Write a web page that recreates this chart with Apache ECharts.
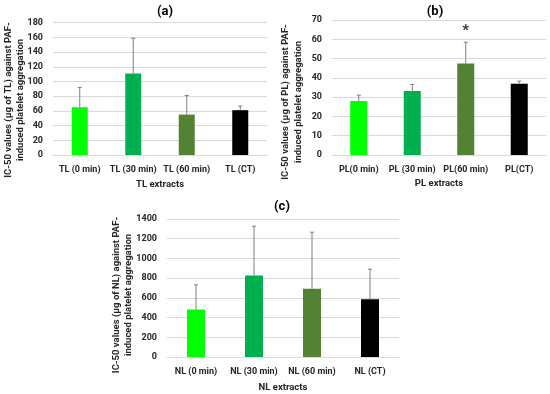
<!DOCTYPE html>
<html><head><meta charset="utf-8">
<script src="https://cdn.jsdelivr.net/npm/echarts@6/dist/echarts.min.js"></script>
<style>html,body{margin:0;padding:0;background:#fff}#c{width:550px;height:394px}</style>
</head><body><div id="c"></div>
<script>
const catsA = ['TL (0 min)', 'TL (30 min)', 'TL (60 min)', 'TL (CT)'];
const valsA = [65, 111, 55, 61];
const errA = [27, 48, 26, 5.5];
const catsB = ['PL(0 min)', 'PL (30 min)', 'PL(60 min)', 'PL(CT)'];
const valsB = [28, 33.2, 47.5, 37];
const errB = [3, 3.4, 11, 1.3];
const catsC = ['NL (0 min)', 'NL (30 min)', 'NL (60 min)', 'NL (CT)'];
const valsC = [482, 827, 693, 586];
const errC = [250, 500, 573, 305];
const barColors = ['#00FF00', '#00B050', '#548235', '#000000'];

const FONT = 'Roboto';
const chart = echarts.init(document.getElementById('c'), null, {renderer: 'canvas'});

function xAx(i, cats, name, nameGap) {
  return {type: 'category', gridIndex: i, data: cats,
    axisLine: {lineStyle: {color: '#d9d9d9'}}, axisTick: {show: false},
    axisLabel: {fontFamily: FONT, fontWeight: 'bold', fontSize: 9, color: '#262626', margin: 10, interval: 0},
    name: name, nameLocation: 'middle', nameGap: nameGap,
    nameTextStyle: {fontFamily: FONT, fontWeight: 'bold', fontSize: 9.5, color: '#262626'}};
}
function yAx(i, max, interval) {
  return {type: 'value', gridIndex: i, min: 0, max: max, interval: interval,
    splitLine: {lineStyle: {color: '#d9d9d9'}}, axisLine: {show: false}, axisTick: {show: false},
    axisLabel: {fontFamily: FONT, fontWeight: 'bold', fontSize: 9, color: '#262626', margin: 10,
      formatter: v => String(v)}};
}
function bars(i, vals, w) {
  return {type: 'bar', xAxisIndex: i, yAxisIndex: i, barWidth: w,
    data: vals.map((v, k) => ({value: v, itemStyle: {color: barColors[k]}}))};
}
function errs(i, vals, err) {
  return {type: 'custom', xAxisIndex: i, yAxisIndex: i, z: 5,
    data: vals.map((v, k) => [k, v, v + err[k]]),
    renderItem: function (params, api) {
      const lo = api.coord([api.value(0), api.value(1)]);
      const hi = api.coord([api.value(0), api.value(2)]);
      const st = {stroke: '#7f7f7f', lineWidth: 1};
      return {type: 'group', children: [
        {type: 'line', shape: {x1: lo[0], y1: lo[1], x2: hi[0], y2: hi[1]}, style: st},
        {type: 'line', shape: {x1: hi[0] - 2, y1: hi[1], x2: hi[0] + 2, y2: hi[1]}, style: st}
      ]};
    }};
}

const yName = t => 'IC-50 values (μg of ' + t + ') against PAF-\ninduced platelet aggregation';
function yTitle(t, x, y) {
  return {type: 'text', x: x, y: y, rotation: Math.PI / 2,
    style: {text: yName(t), font: 'bold 9.5px "' + FONT + '"', fill: '#262626',
      textAlign: 'center', textVerticalAlign: 'middle', lineHeight: 12.5, align: 'center', verticalAlign: 'middle'}};
}

chart.setOption({
  animation: false,
  title: [
    {text: '(a)', left: 160, top: 0, textAlign: 'center', textStyle: {fontFamily: FONT, fontWeight: 'bold', fontSize: 13, color: '#000'}},
    {text: '(b)', left: 430, top: 0, textAlign: 'center', textStyle: {fontFamily: FONT, fontWeight: 'bold', fontSize: 13, color: '#000'}},
    {text: '(c)', left: 277, top: 195, textAlign: 'center', textStyle: {fontFamily: FONT, fontWeight: 'bold', fontSize: 13, color: '#000'}}
  ],
  graphic: [yTitle('TL', 14.5, 100), yTitle('PL', 292, 102), yTitle('NL', 122.5, 295)],
  grid: [
    {left: 53, top: 22.7, width: 214, height: 132.3},
    {left: 332, top: 20, width: 214, height: 135},
    {left: 167, top: 219, width: 232, height: 139.3}
  ],
  xAxis: [xAx(0, catsA, 'TL extracts', 25), xAx(1, catsB, 'PL extracts', 24), xAx(2, catsC, 'NL extracts', 26)],
  yAxis: [yAx(0, 180, 20), yAx(1, 70, 10), yAx(2, 1400, 200)],
  series: [
    bars(0, valsA, 16), errs(0, valsA, errA),
    bars(1, valsB, 17), errs(1, valsB, errB),
    bars(2, valsC, 18), errs(2, valsC, errC),
    {type: 'scatter', xAxisIndex: 1, yAxisIndex: 1, symbolSize: 0, silent: true,
     data: [{value: [2, valsB[2] + errB[2]], label: {show: true, formatter: '*', position: 'top', distance: 3,
       fontFamily: FONT, fontWeight: 'bold', fontSize: 15, color: '#000'}}]}
  ]
});
</script></body></html>
